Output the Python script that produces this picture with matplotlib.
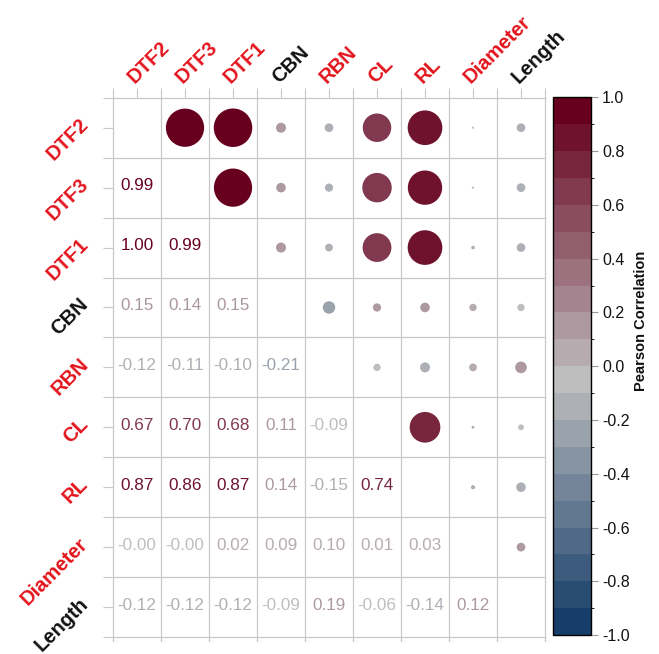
import numpy as np
import matplotlib
matplotlib.use("Agg")
import matplotlib.pyplot as plt
from matplotlib.colors import LinearSegmentedColormap, ListedColormap, BoundaryNorm
from matplotlib.cm import ScalarMappable

plt.rcParams['font.family'] = ['Liberation Sans', 'DejaVu Sans']
plt.rcParams['axes.unicode_minus'] = False

# traits, in plotting order
traits = ["DTF2", "DTF3", "DTF1", "CBN", "RBN", "CL", "RL", "Diameter", "Length"]
label_colors = ["#e3141c", "#e3141c", "#e3141c", "#111111", "#e3141c",
                "#e3141c", "#e3141c", "#e3141c", "#111111"]

# lower triangle of the Pearson correlation matrix, row by row
r_dtf3 = [0.99]
r_dtf1 = [1.00, 0.99]
r_cbn = [0.15, 0.14, 0.15]
r_rbn = [-0.12, -0.11, -0.10, -0.21]
r_cl = [0.67, 0.70, 0.68, 0.11, -0.09]
r_rl = [0.87, 0.86, 0.87, 0.14, -0.15, 0.74]
r_diam = [-0.002, -0.003, 0.02, 0.09, 0.10, 0.01, 0.03]
r_length = [-0.12, -0.12, -0.12, -0.09, 0.19, -0.06, -0.14, 0.12]
lower_rows = [[], r_dtf3, r_dtf1, r_cbn, r_rbn, r_cl, r_rl, r_diam, r_length]

n = len(traits)
corr = np.eye(n)
for i, row in enumerate(lower_rows):
    for j, v in enumerate(row):
        corr[i, j] = v
        corr[j, i] = v

# blue - grey - red scale cut into 20 steps
base = LinearSegmentedColormap.from_list("bgr", ["#053061", "#bfbfbf", "#67001f"])
bounds = np.linspace(-1, 1, 21)
cmap = ListedColormap([base((u + 1) / 2) for u in bounds[1:]])
norm = BoundaryNorm(bounds, cmap.N)

fig = plt.figure(figsize=(6.59, 6.54), dpi=100)
ax = fig.add_axes([0.1715, 0.026, 0.6555, 0.8245])
ax.set_xlim(0, n)
ax.set_ylim(n, 0)

grid_col = "#c8c8c8"
for k in range(n + 1):
    ax.axhline(k, color=grid_col, lw=0.9, clip_on=False, zorder=1)
    ax.axvline(k, ymin=-0.008, ymax=1, color=grid_col, lw=0.9,
               clip_on=False, zorder=1)
for s in ax.spines.values():
    s.set_visible(False)

centers = np.arange(n) + 0.5
ax.set_xticks(centers)
ax.set_yticks(centers)
ax.set_xticks(np.arange(n + 1), minor=True)
ax.set_yticks(np.arange(n + 1), minor=True)
ax.set_xticklabels([])
ax.set_yticklabels([])
ax.tick_params(which="both", top=True, bottom=False, left=True, right=False,
               labeltop=False, labelbottom=False, length=7, width=0.8,
               color=grid_col)

# upper triangle: circles, area grows with |r|
xs, ys, sizes, cols = [], [], [], []
for i in range(n):
    for j in range(i + 1, n):
        v = corr[i, j]
        d_px = 2 + 36.5 * abs(v) ** 0.8
        xs.append(j + 0.5)
        ys.append(i + 0.5)
        sizes.append((d_px * 0.72) ** 2)
        cols.append(cmap(norm(v)))
ax.scatter(xs, ys, s=sizes, c=cols, linewidths=0, zorder=3)

# lower triangle: coefficients as text
for i in range(n):
    for j in range(i):
        v = corr[i, j]
        ax.text(j + 0.5, i + 0.47, f"{v:.2f}", ha="center", va="center",
                fontsize=12.3, color=cmap(norm(v)), zorder=3)

for k, name in enumerate(traits):
    ax.text(k + 0.46, -0.23, name, rotation=45, rotation_mode="anchor",
            ha="left", va="baseline", fontsize=14.5, fontweight="bold",
            color=label_colors[k], clip_on=False)
    ax.text(-0.58, k + 0.40, name, rotation=45, rotation_mode="anchor",
            ha="right", va="center", fontsize=14.5, fontweight="bold",
            color=label_colors[k], clip_on=False)

cax = fig.add_axes([0.839, 0.029, 0.0577, 0.822])
cb = fig.colorbar(ScalarMappable(norm=norm, cmap=cmap), cax=cax,
                  ticks=np.linspace(-1, 1, 11), format="%.1f")
cb.outline.set_edgecolor("black")
cb.outline.set_linewidth(1.0)
cax.tick_params(length=5, width=0.8, color="#999999", labelsize=11.5,
                labelcolor="#111111", pad=3)
fig.text(0.973, 0.51, "Pearson Correlation", rotation=90, ha="center",
         va="center", fontsize=10.5, fontweight="bold", color="#111111")

fig.savefig("out.png", dpi=100)
